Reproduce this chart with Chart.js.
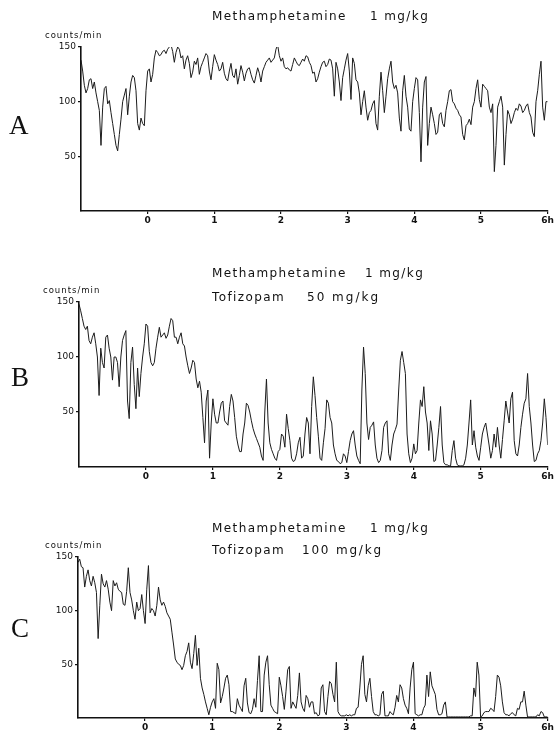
<!DOCTYPE html>
<html>
<head>
<meta charset="utf-8">
<script src="https://cdn.jsdelivr.net/npm/chart.js@4.4.0/dist/chart.umd.min.js"></script>
<style>
    body { margin: 0; background: #fff; }
    #page { position: relative; width: 555px; height: 735px; overflow: hidden; background: #fff; color: #111; font-family: 'DejaVu Sans', sans-serif; }
    .panel { position: absolute; left: 0; width: 555px; }
    .txt { position: absolute; white-space: nowrap; line-height: 1; }
    .title { font-size: 12px; letter-spacing: 1.4px; }
    .units { font-size: 8.5px; letter-spacing: 1px; }
    .letter { font-family: 'Liberation Serif', serif; font-size: 27px; }
</style>
</head>
<body>
<div id="page">
    <div class="panel" style="top:0;height:235px"><canvas id="chart-a" width="555" height="235"></canvas></div>
    <div class="panel" style="top:240px;height:250px"><canvas id="chart-b" width="555" height="250"></canvas></div>
    <div class="panel" style="top:495px;height:240px"><canvas id="chart-c" width="555" height="240"></canvas></div>

    <!-- panel A texts -->
    <span class="txt title" style="left:212px;top:10px">Methamphetamine</span>
    <span class="txt title" style="left:370px;top:10px">1 mg/kg</span>
    <span class="txt units" style="left:45px;top:31px">counts/min</span>
    <span class="txt letter" style="left:9px;top:112px">A</span>

    <!-- panel B texts -->
    <span class="txt title" style="left:212px;top:267px">Methamphetamine</span>
    <span class="txt title" style="left:365px;top:267px">1 mg/kg</span>
    <span class="txt title" style="left:212px;top:291px">Tofizopam</span>
    <span class="txt title" style="left:307px;top:291px;letter-spacing:2px">50 mg/kg</span>
    <span class="txt units" style="left:43px;top:286px">counts/min</span>
    <span class="txt letter" style="left:11px;top:364px">B</span>

    <!-- panel C texts -->
    <span class="txt title" style="left:212px;top:522px">Methamphetamine</span>
    <span class="txt title" style="left:370px;top:522px">1 mg/kg</span>
    <span class="txt title" style="left:212px;top:544px">Tofizopam</span>
    <span class="txt title" style="left:302px;top:544px;letter-spacing:1.8px">100 mg/kg</span>
    <span class="txt units" style="left:45px;top:541px">counts/min</span>
    <span class="txt letter" style="left:11px;top:615px">C</span>
</div>

<script>
// recorder trace sampled every 1.5 min, starting 1 h before the injection
const startHour = -1;
const stepHours = 0.025;

const hourTicks = [0, 1, 2, 3, 4, 5, 6];
const hourLabels = ['0', '1', '2', '3', '4', '5', '6h'];
const countTicks = [50, 100, 150];

// A: methamphetamine 1 mg/kg
const activityA = [
    138, 128, 115, 108, 112, 120, 121, 112, 118, 108, 100, 92, 60, 95, 112, 114, 98, 101, 90, 80,
    70, 60, 55, 70, 84, 100, 106, 112, 88, 105, 118, 124, 122, 110, 80, 74, 85, 80, 78, 110,
    128, 130, 118, 125, 140, 147, 145, 142, 143, 146, 147, 144, 148, 150, 152, 146, 136, 145, 150, 148,
    140, 142, 130, 138, 142, 135, 122, 127, 137, 134, 140, 125, 132, 136, 140, 144, 142, 128, 120, 132,
    143, 138, 134, 128, 130, 136, 126, 121, 119, 128, 135, 124, 122, 130, 116, 124, 133, 127, 119, 126,
    130, 131, 125, 120, 117, 124, 131, 126, 118, 128, 132, 136, 138, 140, 136, 138, 140, 148, 152, 142,
    137, 140, 132, 130, 131, 129, 128, 134, 140, 137, 134, 133, 136, 139, 137, 142, 141, 136, 133, 126,
    127, 118, 121, 127, 132, 136, 137, 132, 134, 139, 138, 130, 105, 136, 130, 118, 101, 122, 130, 138,
    144, 128, 102, 140, 135, 120, 118, 108, 88, 100, 110, 95, 83, 90, 92, 98, 101, 80, 74, 105,
    127, 110, 90, 105, 121, 130, 137, 118, 112, 115, 108, 85, 73, 110, 124, 105, 95, 75, 73, 100,
    112, 122, 120, 90, 45, 95, 118, 123, 60, 80, 95, 88, 80, 70, 72, 88, 90, 80, 77, 92,
    100, 110, 111, 100, 98, 94, 92, 88, 86, 70, 65, 78, 80, 84, 79, 95, 100, 112, 120, 102,
    95, 116, 114, 112, 110, 95, 90, 98, 36, 60, 95, 100, 105, 95, 42, 70, 92, 88, 80, 84,
    90, 94, 92, 98, 96, 90, 92, 96, 98, 90, 86, 72, 68, 100, 110, 125, 137, 95, 83, 100, 100
];

// B: methamphetamine 1 mg/kg + tofizopam 50 mg/kg
const activityB = [
    148, 142, 135, 128, 125, 128, 115, 112, 118, 122, 112, 100, 65, 108, 95, 90, 118, 120, 108, 100,
    79, 100, 100, 95, 73, 100, 115, 120, 124, 60, 44, 95, 109, 75, 53, 90, 64, 85, 100, 112,
    130, 128, 105, 95, 92, 95, 108, 118, 127, 118, 120, 122, 117, 120, 128, 135, 133, 118, 118, 112,
    118, 122, 112, 110, 100, 92, 85, 90, 97, 95, 80, 72, 78, 68, 45, 22, 60, 70, 8, 40,
    62, 48, 40, 40, 50, 58, 60, 42, 40, 38, 55, 66, 60, 45, 28, 20, 14, 14, 30, 40,
    58, 56, 50, 42, 35, 30, 26, 22, 18, 10, 6, 50, 80, 40, 22, 16, 12, 8, 6, 14,
    16, 30, 28, 18, 48, 35, 24, 8, 5, 6, 12, 22, 27, 8, 10, 30, 45, 40, 12, 55,
    82, 65, 45, 28, 8, 6, 22, 35, 61, 58, 45, 40, 20, 12, 6, 5, 3, 4, 12, 10,
    4, 14, 24, 30, 33, 20, 10, 6, 3, 70, 109, 85, 40, 25, 36, 38, 41, 20, 8, 4,
    6, 15, 36, 40, 42, 12, 6, 20, 30, 34, 39, 70, 97, 105, 95, 85, 30, 12, 4, 8,
    21, 12, 15, 40, 61, 55, 73, 50, 40, 15, 42, 30, 5, 6, 20, 36, 55, 20, 4, 2,
    2, 1, 1, 15, 24, 8, 2, 1, 1, 1, 2, 8, 20, 40, 61, 20, 33, 18, 10, 6,
    18, 30, 36, 40, 30, 20, 8, 15, 30, 18, 36, 20, 8, 25, 42, 60, 50, 40, 62, 68,
    24, 12, 10, 20, 36, 48, 58, 62, 85, 55, 40, 20, 5, 6, 12, 15, 24, 40, 62, 45, 20
];

// C: methamphetamine 1 mg/kg + tofizopam 100 mg/kg
const activityC = [
    145, 148, 141, 140, 122, 132, 138, 128, 123, 132, 126, 117, 74, 105, 134, 125, 122, 128, 120, 108,
    100, 128, 123, 126, 120, 118, 117, 106, 105, 118, 140, 117, 110, 100, 92, 108, 100, 102, 115, 100,
    88, 120, 142, 98, 102, 100, 95, 105, 122, 110, 105, 108, 104, 98, 95, 92, 80, 68, 55, 52,
    50, 49, 45, 49, 58, 62, 70, 52, 46, 60, 77, 49, 65, 37, 28, 22, 15, 9, 3, 10,
    15, 18, 9, 51, 45, 14, 20, 28, 37, 40, 31, 6, 6, 5, 4, 18, 12, 9, 6, 30,
    37, 14, 5, 4, 8, 18, 10, 35, 58, 6, 6, 40, 52, 58, 31, 12, 9, 6, 5, 4,
    38, 30, 20, 8, 25, 45, 48, 9, 15, 12, 9, 21, 42, 15, 9, 6, 21, 18, 10, 15,
    15, 4, 5, 2, 3, 28, 31, 6, 3, 20, 34, 32, 22, 15, 52, 6, 3, 2, 2, 2,
    3, 2, 3, 2, 3, 3, 9, 10, 28, 50, 58, 22, 15, 30, 37, 20, 6, 3, 3, 2,
    3, 22, 25, 2, 2, 2, 6, 4, 3, 10, 21, 15, 31, 28, 18, 12, 9, 4, 28, 45,
    52, 4, 3, 2, 3, 3, 9, 12, 40, 20, 43, 30, 26, 22, 8, 3, 3, 4, 12, 15,
    1, 1, 1, 1, 1, 1, 1, 1, 1, 1, 1, 1, 1, 1, 2, 2, 28, 20, 52, 40,
    1, 2, 5, 6, 6, 6, 9, 8, 6, 20, 40, 38, 30, 15, 5, 3, 3, 2, 4, 5,
    3, 2, 9, 8, 15, 15, 25, 12, 1, 1, 1, 1, 1, 1, 3, 2, 6, 5, 1, 1, 1
];

Chart.defaults.font.family = "'DejaVu Sans', sans-serif";
Chart.defaults.color = '#111';
Chart.defaults.animation = false;

function makePanel(canvasId, values, axisWidth, topPad, bottomPad) {
    const points = values.map((v, i) => ({ x: startHour + i * stepHours, y: v }));
    const ctx = document.getElementById(canvasId).getContext('2d');

    return new Chart(ctx, {
        type: 'line',
        data: {
            datasets: [{
                data: points,
                borderColor: '#1c1c1c',
                borderWidth: 1,
                pointRadius: 0,
                tension: 0,
                fill: false
            }]
        },
        options: {
            responsive: false,
            layout: { padding: { top: topPad, right: 6, bottom: bottomPad, left: 0 } },
            plugins: { legend: { display: false }, tooltip: { enabled: false } },
            scales: {
                x: {
                    type: 'linear',
                    min: -1,
                    max: 6,
                    afterBuildTicks: function (scale) {
                        scale.ticks = hourTicks.map(v => ({ value: v }));
                    },
                    afterFit: function (scale) { scale.height = 16; },
                    ticks: {
                        autoSkip: false,
                        maxRotation: 0,
                        padding: 1,
                        font: { size: 9, weight: 'bold' },
                        callback: function (value) {
                            const idx = hourTicks.indexOf(value);
                            return idx >= 0 ? hourLabels[idx] : '';
                        }
                    },
                    grid: { display: true, drawOnChartArea: false, drawTicks: true, tickLength: 3, color: '#111', lineWidth: 1.2 },
                    border: { display: true, color: '#111', width: 1.6 }
                },
                y: {
                    min: 0,
                    max: 150,
                    afterBuildTicks: function (scale) {
                        scale.ticks = countTicks.map(v => ({ value: v }));
                    },
                    afterFit: function (scale) { scale.width = axisWidth; },
                    ticks: {
                        autoSkip: false,
                        padding: 2,
                        font: { size: 9 }
                    },
                    grid: { display: true, drawOnChartArea: false, drawTicks: true, tickLength: 3, color: '#111', lineWidth: 1.2 },
                    border: { display: true, color: '#111', width: 1.6 }
                }
            }
        }
    });
}

makePanel('chart-a', activityA, 81, 47, 8);
makePanel('chart-b', activityB, 79, 62, 7);
makePanel('chart-c', activityC, 78, 62, 1);
</script>
</body>
</html>
